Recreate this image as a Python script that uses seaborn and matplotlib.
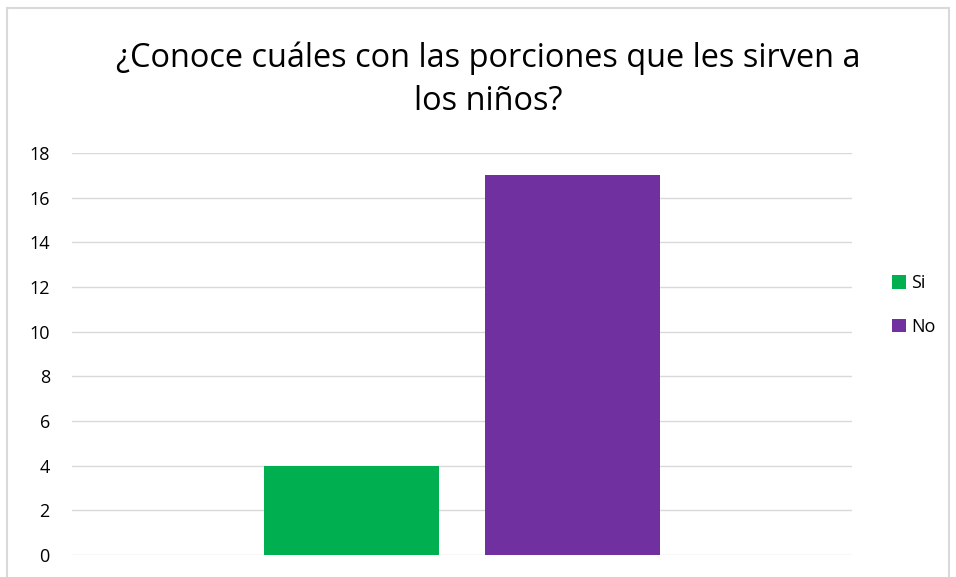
import matplotlib
matplotlib.use("Agg")
import matplotlib.pyplot as plt
import seaborn as sns
import pandas as pd
from matplotlib.patches import Rectangle

categories = ["Si", "No"]
values = [4, 17]
colors = ["#00B050", "#7030A0"]
yticks = [0, 2, 4, 6, 8, 10, 12, 14, 16, 18]
title = "¿Conoce cuáles con las porciones que les sirven a\nlos niños?"

df = pd.DataFrame({"grupo": [""] * len(categories), "respuesta": categories, "valor": values})

sns.set_theme(style="white")
plt.rcParams['font.family'] = ['Open Sans', 'DejaVu Sans']

W, H = 956, 577
fig = plt.figure(figsize=(W / 100, H / 100), dpi=100)
ax = fig.add_axes([72 / W, 22 / H, (852 - 72) / W, (555 - 153) / H])

sns.barplot(data=df, x="grupo", y="valor", hue="respuesta", palette=colors,
            width=0.569, gap=0.2115, ax=ax, legend=True, saturation=1,
            linewidth=0, edgecolor="none")

ax.set_xlim(-0.5, 0.5)
ax.set_ylim(0, 18)
ax.set_yticks(yticks)
ax.set_yticklabels([str(t) for t in yticks], fontsize=13, color="#000000")
ax.tick_params(axis="y", length=0, pad=16)
ax.set_xticks([])
ax.set_xlabel("")
ax.set_ylabel("")
for s in ax.spines.values():
    s.set_visible(False)
ax.yaxis.grid(True, color="#D9D9D9", linewidth=1)
ax.set_axisbelow(True)

leg = ax.legend(loc="center left", bbox_to_anchor=(876 / W, 1 - 305 / H),
                bbox_transform=fig.transFigure, frameon=False, fontsize=13,
                handlelength=0.75, handleheight=0.75, handletextpad=0.3, labelspacing=1.4)
for t in leg.get_texts():
    t.set_color("#000000")

fig.text(488 / W, 1 - 80 / H, title, ha="center", va="center", fontsize=23.4,
         color="#000000", linespacing=1.4)

fig.patches.append(Rectangle((7 / W, -0.1), (949 - 7) / W, 1.1 - 8 / H,
                             transform=fig.transFigure, fill=False,
                             edgecolor="#D9D9D9", linewidth=1.5))

fig.savefig("out.png", dpi=100)
